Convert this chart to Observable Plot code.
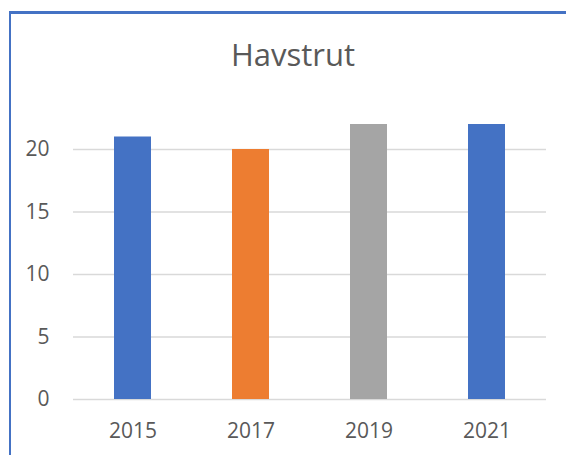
<!DOCTYPE html>
<html>
<head>
<meta charset="utf-8">
<script src="https://cdn.jsdelivr.net/npm/d3@7"></script>
<script src="https://cdn.jsdelivr.net/npm/@observablehq/plot@0.6"></script>
<style>
  html, body { margin: 0; padding: 0; background: #fff; }
  #wrap { position: relative; width: 566px; height: 455px; overflow: hidden; font-family: "Open Sans", sans-serif; }
  #frame { position: absolute; left: 9px; top: 11px; width: 700px; height: 600px;
           border-top: 3px solid #4472C4; border-left: 2px solid #4472C4; box-sizing: border-box; }
  #title { position: absolute; left: 0; width: 586px; top: 39px; text-align: center;
           font-size: 31px; color: #595959; line-height: 1; }
  #chart { position: absolute; left: 0; top: 0; }
</style>
</head>
<body>
<div id="wrap">
  <div id="frame"></div>
  <div id="title">Havstrut</div>
  <div id="chart"></div>
</div>
<script>
const years = ["2015", "2017", "2019", "2021"];
const values = [21, 20, 22, 22];
const colors = ["#4472C4", "#ED7D31", "#A5A5A5", "#4472C4"];
const yTicks = [0, 5, 10, 15, 20];
const titleText = "Havstrut";

const data = years.map((y, i) => ({year: y, value: values[i], color: colors[i]}));

const chart = Plot.plot({
  width: 566,
  height: 455,
  marginLeft: 73,
  marginRight: 20,
  marginTop: 86.5,
  marginBottom: 56,
  style: {background: "transparent", fontFamily: "Open Sans, sans-serif", fontSize: "21px", color: "#595959"},
  x: {type: "band", domain: years, paddingInner: 0.687, paddingOuter: 0.3435, label: null},
  y: {domain: [0, 25], label: null},
  color: {type: "identity"},
  marks: [
    Plot.ruleY(yTicks, {stroke: "#D9D9D9", strokeWidth: 1.5}),
    Plot.barY(data, {x: "year", y: "value", fill: "color"}),
    Plot.axisY(yTicks, {tickSize: 0, tickPadding: 24, fill: "#595959", fontSize: 21, label: null}),
    Plot.axisX({tickSize: 0, tickPadding: 24, fill: "#595959", fontSize: 21, label: null})
  ]
});
document.getElementById("chart").appendChild(chart);
document.getElementById("title").textContent = titleText;
</script>
</body>
</html>
